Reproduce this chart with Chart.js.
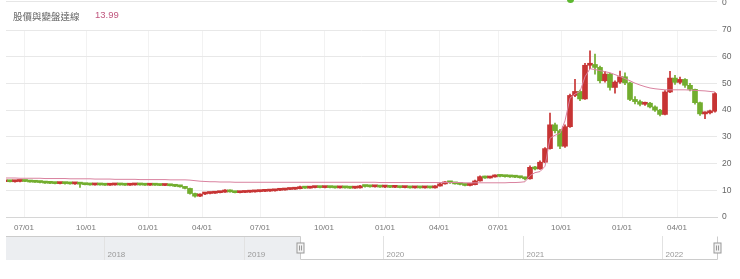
<!DOCTYPE html>
<html>
<head>
<meta charset="utf-8">
<script src="https://cdn.jsdelivr.net/npm/chart.js@4/dist/chart.umd.min.js"></script>
<style>
  body { margin: 0; background: #fff; font-family: Arial, "Liberation Sans", "Noto Sans CJK TC", sans-serif; }
  #wrap { position: relative; width: 740px; height: 279px; overflow: hidden; }
  #mainBox { position: absolute; left: 0; top: 0; width: 740px; height: 234px; }
  #navBox { position: absolute; left: 0; top: 234px; width: 740px; height: 30px; }
  #legend { position: absolute; left: 13px; top: 9px; font-size: 9.5px; color: #666; white-space: nowrap; }
  #legendVal { position: absolute; left: 95px; top: 9px; font-size: 9.5px; color: #c0567e; }
  #topLine { position: absolute; left: 6px; top: 1px; width: 711px; height: 1px; background: #e6e6e6; }
  #topZero { position: absolute; left: 722px; top: -3px; font-size: 8.5px; color: #666; }
  #topDot { position: absolute; left: 567px; top: -4px; width: 7px; height: 7px; border-radius: 50%; background: #5cb82e; }
</style>
</head>
<body>
<div id="wrap">
  <div id="mainBox"><canvas id="main"></canvas></div>
  <div id="navBox"><canvas id="nav"></canvas></div>
  <div id="topLine"></div>
  <div id="topZero">0</div>
  <div id="topDot"></div>
  <div id="legend"></div>
  <div id="legendVal"></div>
</div>
<script>
const seriesName = "股價與變盤達線";
const seriesValue = "13.99";

// one candle per 5 trading days, starting early June 2019
const open = [
  13.2,13.3,13.2,13.3,13.4,13.3,13.1,13.0,12.9,12.7,
  12.6,12.5,12.6,12.5,12.4,12.5,12.3,12.1,12.0,12.1,
  12.0,11.9,12.0,12.1,12.0,11.9,12.0,12.1,12.0,11.9,
  12.0,11.9,11.8,11.9,11.7,11.5,11.3,10.7,8.8,7.8,
  8.6,8.8,8.9,9.1,9.3,10.1,9.4,9.1,9.2,9.3,
  9.4,9.5,9.6,9.7,9.8,10.0,10.1,10.3,10.4,10.6,
  10.9,10.8,11.0,11.1,11.0,11.1,11.0,10.9,11.0,10.9,
  10.8,10.9,11.6,11.4,11.3,11.4,11.2,11.3,11.1,11.2,
  11.0,11.1,10.9,11.0,10.9,11.0,10.9,11.6,12.4,13.0,
  12.8,12.4,12.2,11.8,12.1,13.5,15.1,14.6,15.0,15.5,
  15.2,15.1,15.0,14.9,14.7,14.3,18.6,18.0,20.5,25.6,
  34.5,32.3,26.5,33.8,45.5,47.0,44.2,56.8,57.1,56.0,
  51.0,53.5,48.5,50.5,52.5,50.2,44.0,43.2,42.2,42.6,
  41.2,40.0,38.4,46.8,52.0,50.4,51.5,49.3,47.8,42.8,
  38.6,39.0,39.6
];
const high = [
  13.4,13.5,13.4,13.5,13.6,13.4,13.3,13.2,13.0,12.9,
  12.8,12.7,12.7,12.6,12.6,12.5,12.4,12.2,12.2,12.2,
  12.1,12.1,12.2,12.2,12.1,12.1,12.2,12.2,12.1,12.1,
  12.1,12.0,12.0,12.0,11.8,11.6,11.4,10.8,9.0,8.7,
  8.9,9.0,9.2,9.4,10.3,10.2,9.5,9.3,9.4,9.5,
  9.6,9.7,9.8,9.9,10.1,10.2,10.4,10.5,10.7,11.6,
  11.1,11.1,11.2,11.2,11.2,11.2,11.1,11.1,11.1,11.0,
  11.0,11.9,11.7,11.5,11.5,11.5,11.4,11.4,11.3,11.3,
  11.2,11.2,11.1,11.1,11.1,11.1,11.8,12.6,13.3,13.2,
  12.9,12.5,12.3,12.3,13.8,15.4,15.3,15.2,15.8,15.7,
  15.5,15.3,15.2,15.1,14.9,19.2,19.0,21.0,26.0,38.9,
  35.2,32.8,34.5,46.0,51.5,47.5,57.5,62.2,61.0,56.5,
  54.5,53.8,51.0,54.6,54.0,50.5,45.1,43.8,43.0,42.9,
  41.6,40.3,47.3,54.5,53.0,52.4,51.8,50.0,47.9,43.0,
  39.4,40.0,46.6
];
const low = [
  13.0,13.1,13.0,13.1,13.2,13.0,12.9,12.8,12.6,12.5,
  12.4,12.4,12.3,12.3,12.2,11.1,12.0,11.9,11.9,11.9,
  11.8,11.8,11.9,11.9,11.8,11.8,11.9,11.9,11.8,11.8,
  11.8,11.7,11.7,11.6,11.4,11.2,10.5,8.5,7.4,7.6,
  8.4,8.6,8.8,9.0,9.2,9.3,9.0,9.0,9.1,9.2,
  9.3,9.4,9.5,9.6,9.7,9.9,10.0,10.2,10.3,10.5,
  10.7,10.8,10.9,10.9,10.9,10.9,10.8,10.8,10.8,10.7,
  10.7,10.8,11.2,11.2,11.2,11.1,11.0,11.0,11.0,10.9,
  10.9,10.8,10.8,10.8,10.8,10.8,10.8,11.5,12.3,12.6,
  12.3,12.0,11.6,11.6,12.0,13.4,14.4,14.5,14.9,15.0,
  14.9,14.8,14.7,14.5,13.9,14.2,17.6,17.8,20.3,25.4,
  31.5,25.6,26.0,33.5,45.0,43.5,44.0,55.5,53.5,50.2,
  50.5,47.5,46.4,50.0,49.5,43.5,42.3,41.6,41.8,40.8,
  39.5,37.8,38.2,46.5,49.6,49.8,48.5,47.2,42.2,38.0,
  36.8,38.6,39.2
];
const close = [
  13.3,13.2,13.3,13.4,13.3,13.1,13.0,12.9,12.7,12.6,
  12.5,12.6,12.5,12.4,12.5,12.3,12.1,12.0,12.1,12.0,
  11.9,12.0,12.1,12.0,11.9,12.0,12.1,12.0,11.9,12.0,
  11.9,11.8,11.9,11.7,11.5,11.3,10.7,8.8,7.8,8.6,
  8.8,8.9,9.1,9.3,10.1,9.4,9.1,9.2,9.3,9.4,
  9.5,9.6,9.7,9.8,10.0,10.1,10.3,10.4,10.6,10.9,
  10.8,11.0,11.1,11.0,11.1,11.0,10.9,11.0,10.9,10.8,
  10.9,11.6,11.4,11.3,11.4,11.2,11.3,11.1,11.2,11.0,
  11.1,10.9,11.0,10.9,11.0,10.9,11.6,12.4,13.0,12.8,
  12.4,12.2,11.8,12.1,13.5,15.1,14.6,15.0,15.5,15.2,
  15.1,15.0,14.9,14.7,14.3,18.6,18.0,20.5,25.6,34.5,
  32.3,26.5,33.8,45.5,47.0,44.2,56.8,57.1,56.0,51.0,
  53.5,48.5,50.5,52.5,50.2,44.0,43.2,42.2,42.6,41.2,
  40.0,38.4,46.8,52.0,50.4,51.5,49.3,47.8,42.8,38.6,
  39.0,39.6,46.2
];
// pink line, same sampling as the candles
const turnLine = [
  14.6,14.6,14.6,14.5,14.5,14.5,14.5,14.5,14.4,14.4,
  14.4,14.4,14.4,14.3,14.3,14.3,14.3,14.3,14.2,14.2,
  14.2,14.2,14.1,14.1,14.1,14.1,14.1,14.0,14.0,14.0,
  14.0,14.0,14.0,13.9,13.9,13.9,13.9,13.8,13.6,13.4,
  13.3,13.2,13.2,13.1,13.1,13.1,13.0,13.0,13.0,13.0,
  13.0,13.0,13.0,13.0,13.0,13.0,13.0,13.0,13.0,13.0,
  13.0,13.0,13.0,13.0,13.0,13.0,13.0,13.0,13.0,13.0,
  13.0,13.0,13.0,13.0,13.0,12.9,12.9,12.9,12.9,12.9,
  12.9,12.9,12.9,12.9,12.9,12.9,12.9,12.9,12.9,12.9,
  12.9,12.9,12.8,12.8,12.8,12.8,12.8,12.8,12.8,12.8,
  12.8,12.9,12.9,13.0,13.2,15.5,16.6,17.0,19.0,29.5,
  30.6,31.3,36.0,44.5,46.0,47.0,52.5,55.5,55.2,54.8,
  54.4,54.0,53.3,52.6,51.8,51.0,50.1,49.4,48.8,48.3,
  48.0,47.8,47.6,47.6,47.6,47.6,47.6,47.5,47.4,47.3,
  47.2,47.0,46.8
];

// x axis: trading-day number; labels at quarter starts
const tickDays = [19, 81, 143, 197, 255, 319, 380, 434, 493, 556, 617, 672];
const tickLabels = ["07/01", "10/01", "01/01", "04/01", "07/01", "10/01", "01/01", "04/01", "07/01", "10/01", "01/01", "04/01"];
const dayRange = [1, 712];
const priceMax = 70;
const priceStep = 10;

// navigator (decimal years)
const navYears = [2018, 2019, 2020, 2021, 2022];
const navRange = [2017.2975, 2022.394];
const navSelected = [2019.405, 2022.394];

const upColor = "#c73434";
const downColor = "#72ad2e";
const lineColor = "#d9829f";

document.getElementById("legend").textContent = seriesName;
document.getElementById("legendVal").textContent = seriesValue;

const dayOf = i => i * 5;
const candleColor = ctx => (close[ctx.dataIndex] >= open[ctx.dataIndex] ? upColor : downColor);

new Chart(document.getElementById("main"), {
  type: "bar",
  data: {
    datasets: [
      {
        type: "line",
        data: turnLine.map((v, i) => ({ x: dayOf(i), y: v })),
        borderColor: lineColor,
        borderWidth: 1,
        pointRadius: 0,
        tension: 0,
        order: 0
      },
      {
        data: low.map((v, i) => ({ x: dayOf(i), y: [v, high[i]] })),
        backgroundColor: candleColor,
        barThickness: 1,
        minBarLength: 1,
        grouped: false,
        order: 2
      },
      {
        data: open.map((v, i) => ({ x: dayOf(i), y: [v, close[i]] })),
        backgroundColor: candleColor,
        barThickness: 5,
        minBarLength: 2,
        grouped: false,
        order: 1
      }
    ]
  },
  options: {
    animation: false,
    responsive: true,
    maintainAspectRatio: false,
    layout: { padding: { left: 6, top: 30, right: 0, bottom: 0 } },
    plugins: { legend: { display: false }, tooltip: { enabled: false } },
    scales: {
      x: {
        type: "linear",
        min: dayRange[0],
        max: dayRange[1],
        offset: false,
        grid: { color: "#f2f2f2", drawTicks: false, offset: false },
        border: { color: "#d6d6d6" },
        afterBuildTicks: s => { s.ticks = tickDays.map(v => ({ value: v })); },
        afterFit: s => { s.height = 17; },
        ticks: {
          autoSkip: false,
          maxRotation: 0,
          padding: 6,
          color: "#777",
          font: { size: 8, family: "Arial" },
          callback: (v, i) => tickLabels[i]
        }
      },
      y: {
        position: "right",
        min: 0,
        max: priceMax,
        grid: { color: "#e8e8e8", drawTicks: false },
        border: { display: false },
        afterFit: s => { s.width = 23; },
        ticks: { stepSize: priceStep, padding: 5, color: "#666", font: { size: 8.5, family: "Arial" } }
      }
    }
  }
});

const navPlugin = {
  id: "navigator",
  afterDraw(chart) {
    const { ctx, chartArea: a } = chart;
    const x = chart.scales.x;
    const px = v => Math.round(x.getPixelForValue(v)) + 0.5;
    const selL = px(navSelected[0]);
    const selR = px(navSelected[1]);
    const top = a.top + 0.5, bottom = a.bottom - 0.5;
    ctx.save();
    ctx.fillStyle = "#eceef1";
    ctx.fillRect(a.left, a.top, selL - a.left, a.bottom - a.top);

    ctx.lineWidth = 1;
    ctx.strokeStyle = "#e2e2e2";
    ctx.fillStyle = "#999";
    ctx.font = "8px Arial";
    navYears.forEach(y => {
      const p = px(y);
      ctx.beginPath();
      ctx.moveTo(p, a.top);
      ctx.lineTo(p, a.bottom);
      ctx.stroke();
      ctx.fillText(String(y), p + 3, a.bottom - 3);
    });

    ctx.strokeStyle = "#cccccc";
    ctx.beginPath();
    ctx.moveTo(a.left, top);
    ctx.lineTo(selL, top);
    ctx.lineTo(selL, bottom);
    ctx.lineTo(selR, bottom);
    ctx.lineTo(selR, top);
    ctx.stroke();

    const mid = Math.round((a.top + a.bottom) / 2);
    [selL, selR].forEach(p => {
      ctx.fillStyle = "#f2f2f2";
      ctx.strokeStyle = "#999";
      ctx.fillRect(p - 3.5, mid - 5, 7, 10);
      ctx.strokeRect(p - 3.5, mid - 5, 7, 10);
      ctx.beginPath();
      ctx.moveTo(p - 1, mid - 2.5); ctx.lineTo(p - 1, mid + 2.5);
      ctx.moveTo(p + 1, mid - 2.5); ctx.lineTo(p + 1, mid + 2.5);
      ctx.stroke();
    });
    ctx.restore();
  }
};

new Chart(document.getElementById("nav"), {
  type: "line",
  data: { datasets: [] },
  options: {
    animation: false,
    responsive: true,
    maintainAspectRatio: false,
    layout: { padding: { left: 6, right: 23, top: 2, bottom: 4 } },
    plugins: { legend: { display: false }, tooltip: { enabled: false } },
    scales: {
      x: { type: "linear", display: false, min: navRange[0], max: navRange[1] },
      y: { display: false }
    }
  },
  plugins: [navPlugin]
});
</script>
</body>
</html>
